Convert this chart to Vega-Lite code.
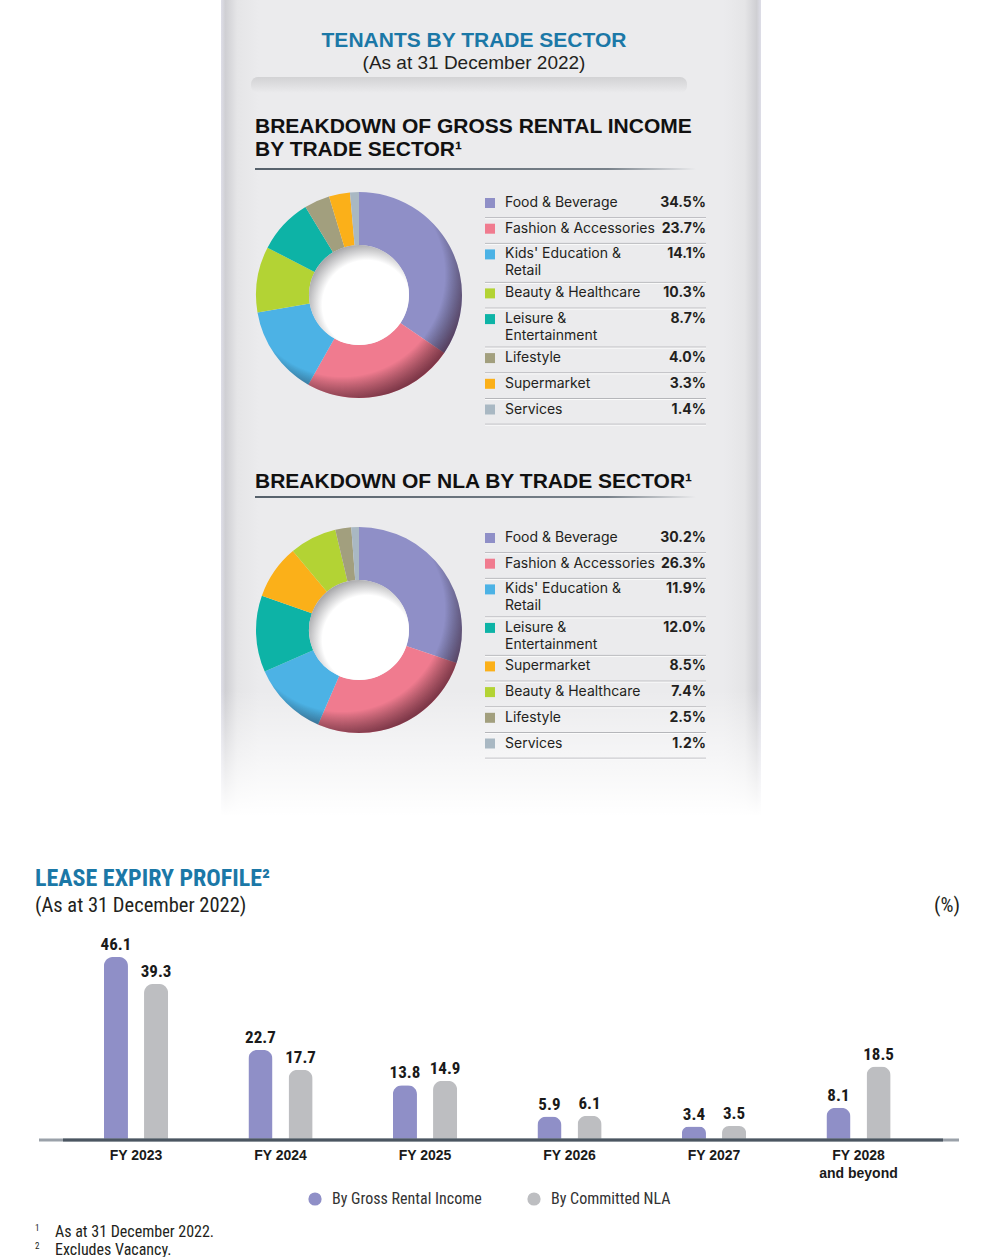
{
  "$schema": "https://vega.github.io/schema/vega-lite/v6.json",
  "padding": 0,
  "spacing": 0,
  "background": "white",
  "config": {
    "view": {"stroke": null},
    "concat": {"spacing": 0},
    "font": "Liberation Sans",
    "legend": {"padding": 0}
  },
  "resolve": {"scale": {"color": "independent"}, "legend": {"color": "independent"}},
  "datasets": {
    "gri": [
      {"sector": "Food & Beverage", "pct": 34.5},
      {"sector": "Fashion & Accessories", "pct": 23.7},
      {"sector": "Kids' Education &\nRetail", "pct": 14.1},
      {"sector": "Beauty & Healthcare", "pct": 10.3},
      {"sector": "Leisure &\nEntertainment", "pct": 8.7},
      {"sector": "Lifestyle", "pct": 4.0},
      {"sector": "Supermarket", "pct": 3.3},
      {"sector": "Services", "pct": 1.4}
    ],
    "nla": [
      {"sector": "Food & Beverage", "pct": 30.2},
      {"sector": "Fashion & Accessories", "pct": 26.3},
      {"sector": "Kids' Education &\nRetail", "pct": 11.9},
      {"sector": "Leisure &\nEntertainment", "pct": 12.0},
      {"sector": "Supermarket", "pct": 8.5},
      {"sector": "Beauty & Healthcare", "pct": 7.4},
      {"sector": "Lifestyle", "pct": 2.5},
      {"sector": "Services", "pct": 1.2}
    ],
    "lease": [
      {"fy": "FY 2023", "s": "By Gross Rental Income", "v": 46.1},
      {"fy": "FY 2023", "s": "By Committed NLA", "v": 39.3},
      {"fy": "FY 2024", "s": "By Gross Rental Income", "v": 22.7},
      {"fy": "FY 2024", "s": "By Committed NLA", "v": 17.7},
      {"fy": "FY 2025", "s": "By Gross Rental Income", "v": 13.8},
      {"fy": "FY 2025", "s": "By Committed NLA", "v": 14.9},
      {"fy": "FY 2026", "s": "By Gross Rental Income", "v": 5.9},
      {"fy": "FY 2026", "s": "By Committed NLA", "v": 6.1},
      {"fy": "FY 2027", "s": "By Gross Rental Income", "v": 3.4},
      {"fy": "FY 2027", "s": "By Committed NLA", "v": 3.5},
      {"fy": "FY 2028 and beyond", "s": "By Gross Rental Income", "v": 8.1},
      {"fy": "FY 2028 and beyond", "s": "By Committed NLA", "v": 18.5}
    ]
  },
  "vconcat": [
    {
      "width": 1000,
      "height": 192,
      "layer": [
        {"data": {"values": [{}]}, "mark": {"type": "rect", "x": 220, "x2": 760, "y": 0, "y2": 192,
          "fill": {"gradient": "linear", "x1": 0, "y1": 0, "x2": 1, "y2": 0, "stops": [
            {"offset": 0, "color": "#dedee8"}, {"offset": 0.008, "color": "#cfcfd3"}, {"offset": 0.03, "color": "#e5e5e7"},
            {"offset": 0.07, "color": "#ebebed"}, {"offset": 0.93, "color": "#ebebed"}, {"offset": 0.97, "color": "#e5e5e7"},
            {"offset": 0.992, "color": "#cfcfd3"}, {"offset": 1, "color": "#dedee8"}]}}, "encoding": {}},
        {"data": {"values": [{}]}, "mark": {"type": "rect", "x": 250, "x2": 686, "y": 77, "y2": 93, "cornerRadius": 7,
          "fill": {"gradient": "linear", "x1": 0, "y1": 0, "x2": 0, "y2": 1, "stops": [
            {"offset": 0, "color": "#d2d2d4"}, {"offset": 1, "color": "#ebebed"}]}}, "encoding": {}},
        {"data": {"values": [{}]}, "mark": {"type": "text", "x": 473, "y": 41, "text": "TENANTS BY TRADE SECTOR", "align": "center", "baseline": "middle",
          "font": "Liberation Sans", "fontWeight": "bold", "fontSize": 21, "color": "#1b78a7"}, "encoding": {}},
        {"data": {"values": [{}]}, "mark": {"type": "text", "x": 473, "y": 63, "text": "(As at 31 December 2022)", "align": "center", "baseline": "middle",
          "font": "Liberation Sans", "fontSize": 19, "color": "#231f20"}, "encoding": {}},
        {"data": {"values": [{}]}, "mark": {"type": "text", "x": 254, "y": 132.5, "text": "BREAKDOWN OF GROSS RENTAL INCOME\nBY TRADE SECTOR¹", "lineBreak": "\n", "lineHeight": 23,
          "align": "left", "baseline": "alphabetic", "font": "Liberation Sans", "fontWeight": "bold", "fontSize": 21, "color": "#111111"}, "encoding": {}},
        {"data": {"values": [{}]}, "mark": {"type": "rect", "x": 254, "x2": 695, "y": 168, "y2": 170,
          "fill": {"gradient": "linear", "x1": 0, "y1": 0, "x2": 1, "y2": 0, "stops": [
            {"offset": 0, "color": "#56616b"}, {"offset": 0.8, "color": "#78818a"}, {"offset": 1, "color": "#ebebed"}]}}, "encoding": {}}
      ]
    },
    {
      "bounds": "flush",
      "hconcat": [
        {"width": 255, "height": 234,
          "layer": [
            {"data": {"values": [{}]}, "mark": {"type": "rect", "x": 220, "x2": 760, "y": 0, "y2": 234,
              "fill": {"gradient": "linear", "x1": 0, "y1": 0, "x2": 1, "y2": 0, "stops": [
                {"offset": 0, "color": "#dedee8"}, {"offset": 0.008, "color": "#cfcfd3"}, {"offset": 0.03, "color": "#e5e5e7"},
                {"offset": 0.07, "color": "#ebebed"}, {"offset": 0.93, "color": "#ebebed"}, {"offset": 0.97, "color": "#e5e5e7"},
                {"offset": 0.992, "color": "#cfcfd3"}, {"offset": 1, "color": "#dedee8"}]}}, "encoding": {}}
          ]},
        {
          "width": 206,
          "height": 206,
          "layer": [
            {"data": {"name": "gri"}, "transform": [{"window": [{"op": "row_number", "as": "idx"}]}],
              "mark": {"type": "arc", "radius": 103, "innerRadius": 50},
              "encoding": {
                "theta": {"field": "pct", "type": "quantitative", "stack": true},
                "order": {"field": "idx", "type": "quantitative"},
                "color": {"field": "sector", "type": "nominal",
                  "scale": {"domain": ["Food & Beverage", "Fashion & Accessories", "Kids' Education &\nRetail", "Beauty & Healthcare", "Leisure &\nEntertainment", "Lifestyle", "Supermarket", "Services"],
                    "range": ["#8f8fc7", "#f07b8f", "#4cb2e5", "#b3d334", "#0db3a6", "#a29f7e", "#fbb019", "#a9b8c3"]}, "legend": null}
              }},
            {"data": {"values": [{}]}, "mark": {"type": "arc", "radius": 103, "innerRadius": 50, "theta": 0, "theta2": 6.2832,
              "fill": {"gradient": "radial", "x1": 0.42, "y1": 0.4, "r1": 0, "x2": 0.42, "y2": 0.4, "r2": 0.62, "stops": [
                {"offset": 0, "color": "rgba(0,0,0,0)"}, {"offset": 0.8, "color": "rgba(0,0,0,0)"}, {"offset": 1, "color": "rgba(50,10,25,0.6)"}]}}, "encoding": {}},
            {"data": {"values": [{}]}, "mark": {"type": "arc", "radius": 50, "innerRadius": 0, "theta": 0, "theta2": 6.2832,
              "fill": {"gradient": "radial", "x1": 0.58, "y1": 0.6, "r1": 0, "x2": 0.58, "y2": 0.6, "r2": 0.62, "stops": [
                {"offset": 0, "color": "#ffffff"}, {"offset": 0.72, "color": "#ffffff"}, {"offset": 1, "color": "#a8a8ab"}]}}, "encoding": {}}
          ]
        },
        {
          "width": 260,
          "height": 234,
          "data": {"name": "gri"},
          "transform": [
            {"window": [{"op": "row_number", "as": "idx"}]},
            {"calculate": "indexof(datum.sector, '\\n') >= 0 ? 39 : 25.7", "as": "h"},
            {"window": [{"op": "sum", "field": "h", "as": "bottom"}], "sort": [{"field": "idx"}], "frame": [null, 0]},
            {"calculate": "datum.bottom - datum.h", "as": "top"},
            {"calculate": "format(datum.pct, '.1f') + '%'", "as": "plabel"}
          ],
          "encoding": {
            "y": {"field": "top", "type": "quantitative", "scale": {"domain": [0, 234], "reverse": true, "nice": false, "zero": false}, "axis": null}
          },
          "layer": [
            {"mark": {"type": "rule", "color": "#b5b6ba", "strokeWidth": 1, "xOffset": -20},
              "encoding": {
                "x": {"datum": "label", "type": "nominal", "scale": {"type": "point", "domain": ["label", "pct"], "range": [43, 244], "padding": 0}, "axis": null},
                "x2": {"datum": "pct"},
                "y": {"field": "bottom", "type": "quantitative"}
              }},
            {"mark": {"type": "rule", "color": "#fbfbfb", "strokeWidth": 1, "xOffset": -20, "yOffset": 1},
              "encoding": {"x": {"datum": "label", "type": "nominal"}, "x2": {"datum": "pct"}, "y": {"field": "bottom", "type": "quantitative"}}},
            {"mark": {"type": "point", "shape": "square", "size": 100, "filled": true, "opacity": 1, "xOffset": -15, "yOffset": 11},
              "encoding": {
                "x": {"datum": "label", "type": "nominal"},
                "color": {"field": "sector", "type": "nominal",
                  "scale": {"domain": ["Food & Beverage", "Fashion & Accessories", "Kids' Education &\nRetail", "Beauty & Healthcare", "Leisure &\nEntertainment", "Lifestyle", "Supermarket", "Services"],
                    "range": ["#8f8fc7", "#f07b8f", "#4cb2e5", "#b3d334", "#0db3a6", "#a29f7e", "#fbb019", "#a9b8c3"]}, "legend": null}
              }},
            {"mark": {"type": "text", "align": "left", "baseline": "top", "dy": 4, "font": "Inter", "fontSize": 14, "lineHeight": 17, "lineBreak": "\n", "color": "#231f20"},
              "encoding": {"x": {"datum": "label", "type": "nominal"}, "text": {"field": "sector"}}},
            {"mark": {"type": "text", "align": "right", "baseline": "top", "dy": 4, "font": "Inter", "fontWeight": "bold", "fontSize": 14, "color": "#231f20"},
              "encoding": {"x": {"datum": "pct", "type": "nominal"}, "text": {"field": "plabel"}}}
          ]
        }
      ]
    },
    {
      "width": 1000,
      "height": 101,
      "layer": [
        {"data": {"values": [{}]}, "mark": {"type": "rect", "x": 220, "x2": 760, "y": 0, "y2": 101,
          "fill": {"gradient": "linear", "x1": 0, "y1": 0, "x2": 1, "y2": 0, "stops": [
            {"offset": 0, "color": "#dedee8"}, {"offset": 0.008, "color": "#cfcfd3"}, {"offset": 0.03, "color": "#e5e5e7"},
            {"offset": 0.07, "color": "#ebebed"}, {"offset": 0.93, "color": "#ebebed"}, {"offset": 0.97, "color": "#e5e5e7"},
            {"offset": 0.992, "color": "#cfcfd3"}, {"offset": 1, "color": "#dedee8"}]}}, "encoding": {}},
        {"data": {"values": [{}]}, "mark": {"type": "text", "x": 254, "y": 61.5, "text": "BREAKDOWN OF NLA BY TRADE SECTOR¹",
          "align": "left", "baseline": "alphabetic", "font": "Liberation Sans", "fontWeight": "bold", "fontSize": 21, "color": "#111111"}, "encoding": {}},
        {"data": {"values": [{}]}, "mark": {"type": "rect", "x": 254, "x2": 695, "y": 70, "y2": 72,
          "fill": {"gradient": "linear", "x1": 0, "y1": 0, "x2": 1, "y2": 0, "stops": [
            {"offset": 0, "color": "#56616b"}, {"offset": 0.8, "color": "#78818a"}, {"offset": 1, "color": "#ebebed"}]}}, "encoding": {}}
      ]
    },
    {
      "bounds": "flush",
      "hconcat": [
        {"width": 255, "height": 289,
          "layer": [
            {"data": {"values": [{}]}, "mark": {"type": "rect", "x": 220, "x2": 760, "y": 0, "y2": 289,
              "fill": {"gradient": "linear", "x1": 0, "y1": 0, "x2": 1, "y2": 0, "stops": [
                {"offset": 0, "color": "#dedee8"}, {"offset": 0.008, "color": "#cfcfd3"}, {"offset": 0.03, "color": "#e5e5e7"},
                {"offset": 0.07, "color": "#ebebed"}, {"offset": 0.93, "color": "#ebebed"}, {"offset": 0.97, "color": "#e5e5e7"},
                {"offset": 0.992, "color": "#cfcfd3"}, {"offset": 1, "color": "#dedee8"}]}}, "encoding": {}},
            {"data": {"values": [{}]}, "mark": {"type": "rect", "x": 214, "x2": 766, "y": 163, "y2": 289,
              "fill": {"gradient": "linear", "x1": 0, "y1": 0, "x2": 0, "y2": 1, "stops": [
                {"offset": 0, "color": "rgba(255,255,255,0)"}, {"offset": 1, "color": "rgba(255,255,255,1)"}]}}, "encoding": {}}
          ]},
        {
          "width": 206,
          "height": 206,
          "layer": [
            {"data": {"name": "nla"}, "transform": [{"window": [{"op": "row_number", "as": "idx"}]}],
              "mark": {"type": "arc", "radius": 103, "innerRadius": 50},
              "encoding": {
                "theta": {"field": "pct", "type": "quantitative", "stack": true},
                "order": {"field": "idx", "type": "quantitative"},
                "color": {"field": "sector", "type": "nominal",
                  "scale": {"domain": ["Food & Beverage", "Fashion & Accessories", "Kids' Education &\nRetail", "Beauty & Healthcare", "Leisure &\nEntertainment", "Lifestyle", "Supermarket", "Services"],
                    "range": ["#8f8fc7", "#f07b8f", "#4cb2e5", "#b3d334", "#0db3a6", "#a29f7e", "#fbb019", "#a9b8c3"]}, "legend": null}
              }},
            {"data": {"values": [{}]}, "mark": {"type": "arc", "radius": 103, "innerRadius": 50, "theta": 0, "theta2": 6.2832,
              "fill": {"gradient": "radial", "x1": 0.42, "y1": 0.4, "r1": 0, "x2": 0.42, "y2": 0.4, "r2": 0.62, "stops": [
                {"offset": 0, "color": "rgba(0,0,0,0)"}, {"offset": 0.8, "color": "rgba(0,0,0,0)"}, {"offset": 1, "color": "rgba(50,10,25,0.6)"}]}}, "encoding": {}},
            {"data": {"values": [{}]}, "mark": {"type": "arc", "radius": 50, "innerRadius": 0, "theta": 0, "theta2": 6.2832,
              "fill": {"gradient": "radial", "x1": 0.58, "y1": 0.6, "r1": 0, "x2": 0.58, "y2": 0.6, "r2": 0.62, "stops": [
                {"offset": 0, "color": "#ffffff"}, {"offset": 0.72, "color": "#ffffff"}, {"offset": 1, "color": "#a8a8ab"}]}}, "encoding": {}}
          ]
        },
        {
          "width": 260,
          "height": 234,
          "data": {"name": "nla"},
          "transform": [
            {"window": [{"op": "row_number", "as": "idx"}]},
            {"calculate": "indexof(datum.sector, '\\n') >= 0 ? 38.5 : 25.7", "as": "h"},
            {"window": [{"op": "sum", "field": "h", "as": "bottom"}], "sort": [{"field": "idx"}], "frame": [null, 0]},
            {"calculate": "datum.bottom - datum.h", "as": "top"},
            {"calculate": "format(datum.pct, '.1f') + '%'", "as": "plabel"}
          ],
          "encoding": {
            "y": {"field": "top", "type": "quantitative", "scale": {"domain": [0, 234], "reverse": true, "nice": false, "zero": false}, "axis": null}
          },
          "layer": [
            {"mark": {"type": "rule", "color": "#b5b6ba", "strokeWidth": 1, "xOffset": -20},
              "encoding": {
                "x": {"datum": "label", "type": "nominal", "scale": {"type": "point", "domain": ["label", "pct"], "range": [43, 244], "padding": 0}, "axis": null},
                "x2": {"datum": "pct"},
                "y": {"field": "bottom", "type": "quantitative"}
              }},
            {"mark": {"type": "rule", "color": "#fbfbfb", "strokeWidth": 1, "xOffset": -20, "yOffset": 1},
              "encoding": {"x": {"datum": "label", "type": "nominal"}, "x2": {"datum": "pct"}, "y": {"field": "bottom", "type": "quantitative"}}},
            {"mark": {"type": "point", "shape": "square", "size": 100, "filled": true, "opacity": 1, "xOffset": -15, "yOffset": 11},
              "encoding": {
                "x": {"datum": "label", "type": "nominal"},
                "color": {"field": "sector", "type": "nominal",
                  "scale": {"domain": ["Food & Beverage", "Fashion & Accessories", "Kids' Education &\nRetail", "Beauty & Healthcare", "Leisure &\nEntertainment", "Lifestyle", "Supermarket", "Services"],
                    "range": ["#8f8fc7", "#f07b8f", "#4cb2e5", "#b3d334", "#0db3a6", "#a29f7e", "#fbb019", "#a9b8c3"]}, "legend": null}
              }},
            {"mark": {"type": "text", "align": "left", "baseline": "top", "dy": 4, "font": "Inter", "fontSize": 14, "lineHeight": 17, "lineBreak": "\n", "color": "#231f20"},
              "encoding": {"x": {"datum": "label", "type": "nominal"}, "text": {"field": "sector"}}},
            {"mark": {"type": "text", "align": "right", "baseline": "top", "dy": 4, "font": "Inter", "fontWeight": "bold", "fontSize": 14, "color": "#231f20"},
              "encoding": {"x": {"datum": "pct", "type": "nominal"}, "text": {"field": "plabel"}}}
          ]
        }
      ]
    },
    {
      "width": 1000,
      "height": 441,
      "layer": [
        {"data": {"values": [{}]}, "mark": {"type": "text", "x": 34, "y": 69, "text": "LEASE EXPIRY PROFILE²", "align": "left", "baseline": "alphabetic",
          "font": "Roboto Condensed, Liberation Sans Narrow, Arial Narrow, Liberation Sans, sans-serif", "fontWeight": "bold", "fontSize": 24, "color": "#1b78a7"}, "encoding": {}},
        {"data": {"values": [{}]}, "mark": {"type": "text", "x": 34, "y": 94.5, "text": "(As at 31 December 2022)", "align": "left", "baseline": "alphabetic",
          "font": "Roboto Condensed, Liberation Sans Narrow, Arial Narrow, Liberation Sans, sans-serif", "fontSize": 20.5, "color": "#231f20"}, "encoding": {}},
        {"data": {"values": [{}]}, "mark": {"type": "text", "x": 959, "y": 94.5, "text": "(%)", "align": "right", "baseline": "alphabetic",
          "font": "Roboto Condensed, Liberation Sans Narrow, Arial Narrow, Liberation Sans, sans-serif", "fontSize": 20.5, "color": "#231f20"}, "encoding": {}},
        {"data": {"values": [{}]}, "mark": {"type": "rule", "x": 34, "x2": 960, "y": 104, "color": "#444444", "strokeWidth": 1.6, "strokeDash": [1.4, 2.4]}, "encoding": {}},
        {
          "data": {"name": "lease"},
          "encoding": {
            "x": {"field": "fy", "type": "nominal", "sort": null,
              "scale": {"range": [62.75, 929.75], "paddingInner": 0, "paddingOuter": 0},
              "axis": {"title": null, "orient": "bottom", "offset": -118, "domain": false, "ticks": false, "grid": false, "labelAngle": 0, "labelPadding": 8,
                "labelFont": "Liberation Sans", "labelFontWeight": "bold", "labelFontSize": 14, "labelColor": "#1a1a1a", "labelBaseline": "top", "labelLineHeight": 18,
                "labelOverlap": false, "labelFlush": false,
                "labelExpr": "datum.label == 'FY 2028 and beyond' ? ['FY 2028', 'and beyond'] : datum.label"}},
            "xOffset": {"field": "s", "type": "nominal", "sort": ["By Gross Rental Income", "By Committed NLA"], "scale": {"paddingInner": 0.4, "paddingOuter": 1.264}},
            "y": {"field": "v", "type": "quantitative", "scale": {"domain": [0, 50], "range": [323, 124.5], "nice": false}, "axis": null},
            "color": {"field": "s", "type": "nominal", "sort": ["By Gross Rental Income", "By Committed NLA"],
              "scale": {"domain": ["By Gross Rental Income", "By Committed NLA"], "range": ["#8f8fc7", "#bdbec1"]},
              "legend": {"title": null, "orient": "none", "legendX": 306, "legendY": 374, "direction": "horizontal", "symbolType": "circle", "symbolSize": 175,
                "symbolStrokeWidth": 0, "symbolOpacity": 1, "labelFont": "Roboto Condensed, Liberation Sans Narrow, Arial Narrow, Liberation Sans, sans-serif",
                "labelFontSize": 16, "labelColor": "#333333", "labelOffset": 9, "columnPadding": 44, "padding": 0}}
          },
          "layer": [
            {"mark": {"type": "bar", "cornerRadiusTopLeft": 9, "cornerRadiusTopRight": 9}},
            {"mark": {"type": "text", "baseline": "bottom", "dy": -3, "font": "Roboto Condensed, Liberation Sans Narrow, Arial Narrow, Liberation Sans, sans-serif",
              "fontWeight": "bold", "fontSize": 17},
              "encoding": {"text": {"field": "v", "type": "quantitative", "format": ".1f"}, "color": {"value": "#1a1a1a"}}}
          ]
        },
        {"data": {"values": [{}]}, "mark": {"type": "rule", "x": 38, "x2": 958, "color": "#9aa1a9", "strokeWidth": 3},
          "encoding": {"y": {"datum": 0, "type": "quantitative"}}},
        {"data": {"values": [{}]}, "mark": {"type": "rule", "x": 62, "x2": 942, "color": "#4b5661", "strokeWidth": 3},
          "encoding": {"y": {"datum": 0, "type": "quantitative"}}},
        {"data": {"values": [{}]}, "mark": {"type": "text", "x": 34, "y": 414, "text": "1", "align": "left", "baseline": "alphabetic",
          "font": "Roboto Condensed, Liberation Sans Narrow, Arial Narrow, Liberation Sans, sans-serif", "fontSize": 9, "color": "#231f20"}, "encoding": {}},
        {"data": {"values": [{}]}, "mark": {"type": "text", "x": 54, "y": 420, "text": "As at 31 December 2022.", "align": "left", "baseline": "alphabetic",
          "font": "Roboto Condensed, Liberation Sans Narrow, Arial Narrow, Liberation Sans, sans-serif", "fontSize": 16, "color": "#231f20"}, "encoding": {}},
        {"data": {"values": [{}]}, "mark": {"type": "text", "x": 34, "y": 432, "text": "2", "align": "left", "baseline": "alphabetic",
          "font": "Roboto Condensed, Liberation Sans Narrow, Arial Narrow, Liberation Sans, sans-serif", "fontSize": 9, "color": "#231f20"}, "encoding": {}},
        {"data": {"values": [{}]}, "mark": {"type": "text", "x": 54, "y": 438, "text": "Excludes Vacancy.", "align": "left", "baseline": "alphabetic",
          "font": "Roboto Condensed, Liberation Sans Narrow, Arial Narrow, Liberation Sans, sans-serif", "fontSize": 16, "color": "#231f20"}, "encoding": {}}
      ]
    }
  ]
}
